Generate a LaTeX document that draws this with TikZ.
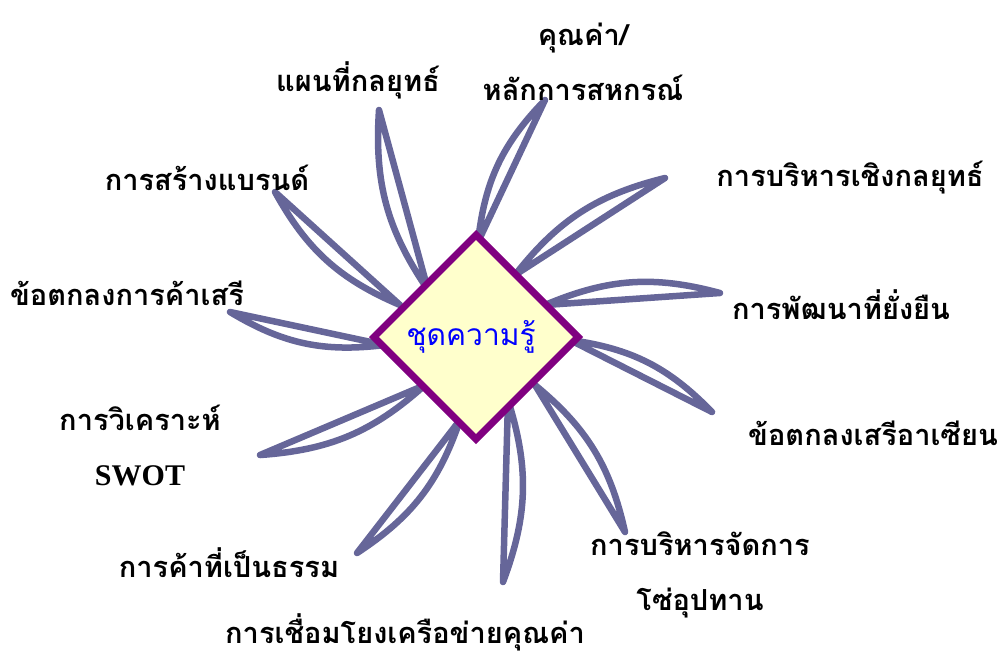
\documentclass[tikz,border=0pt]{standalone}
\usepackage{fontspec}
\newfontfamily\thaifont[Script=Thai]{Loma}
\newfontfamily\latinfont{Liberation Serif}
\usetikzlibrary{shapes.geometric,backgrounds}

\definecolor{petalline}{RGB}{102,102,153}
\definecolor{hubline}{RGB}{128,0,128}
\definecolor{hubfill}{RGB}{255,255,204}

\begin{document}
\begin{tikzpicture}[x=1pt, y=-1pt,
  every node/.style={font=\thaifont\bfseries\fontsize{29}{34}\selectfont},
  hub/.style={draw=hubline, fill=hubfill, diamond, line width=7pt,
              minimum width=207pt, minimum height=207pt, inner sep=0pt,
              text=blue, font=\thaifont\fontsize{30}{34}\selectfont},
  topic/.style={align=center, inner sep=0pt},
  twoline/.style={topic, font=\thaifont\bfseries\fontsize{29}{55}\selectfont},
  petal/.style={draw=petalline, line width=6.5pt, line join=round, line cap=round}]
\useasboundingbox (0,0) rectangle (1003,654);

%% ---- hub ----
\node[hub] (kb) at (476,337) {\raisebox{5pt}{ชุดความรู้\hspace{10pt}}};

%% ---- topics, clockwise from top ----
\node[topic]   (l1)  at (358, 80)  {แผนที่กลยุทธ์};
\node[twoline] (l2)  at (583, 62)  {คุณค่า/\\หลักการสหกรณ์};
\node[topic]   (l3)  at (850,178)  {การบริหารเชิงกลยุทธ์};
\node[topic]   (l4)  at (841,305)  {การพัฒนาที่ยั่งยืน};
\node[topic]   (l5)  at (873,433)  {ข้อตกลงเสรีอาเซียน};
\node[twoline] (l6)  at (700,575)  {การบริหารจัดการ\\โซ่อุปทาน};
\node[topic]   (l7)  at (405,632)  {การเชื่อมโยงเครือข่ายคุณค่า};
\node[topic]   (l8)  at (229,563)  {การค้าที่เป็นธรรม};
\node[twoline] (l9)  at (140,445)  {การวิเคราะห์\\{\latinfont\bfseries\fontsize{30}{34}\selectfont SWOT}};
\node[topic]   (l10) at (127,293)  {ข้อตกลงการค้าเสรี};
\node[topic]   (l11) at (207,178)  {การสร้างแบรนด์};

%% ---- petal ends ----
\coordinate (b1)  at (428,290); \coordinate (t1)  at (379,110);
\coordinate (b2)  at (478,242); \coordinate (t2)  at (545,100);
\coordinate (b3)  at (515,275); \coordinate (t3)  at (665,178);
\coordinate (b4)  at (545,305); \coordinate (t4)  at (720,293);
\coordinate (b5)  at (570,340); \coordinate (t5)  at (712,412);
\coordinate (b6)  at (535,385); \coordinate (t6)  at (625,532);
\coordinate (b7)  at (508,400); \coordinate (t7)  at (503,582);
\coordinate (b8)  at (460,420); \coordinate (t8)  at (357,553);
\coordinate (b9)  at (425,385); \coordinate (t9)  at (260,455);
\coordinate (b10) at (385,345); \coordinate (t10) at (230,312);
\coordinate (b11) at (400,305); \coordinate (t11) at (275,192);

%% ---- petals behind the hub ----
\begin{scope}[on background layer]
  \foreach \i in {1,...,11}
    \draw[petal] (b\i) -- (t\i) to[bend right=19] (b\i);
\end{scope}
\end{tikzpicture}
\end{document}
